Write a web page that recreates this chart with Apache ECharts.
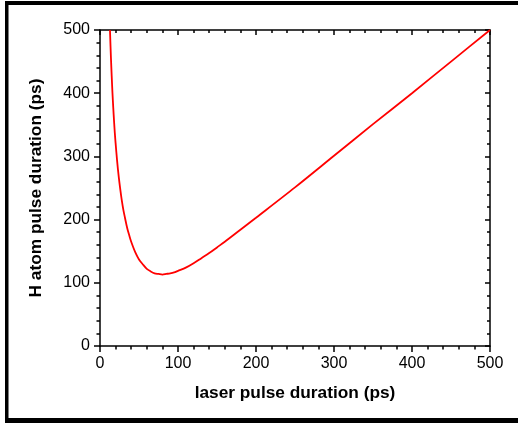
<!DOCTYPE html>
<html>
<head>
<meta charset="utf-8">
<script src="https://cdn.jsdelivr.net/npm/echarts@6/dist/echarts.min.js"></script>
<style>
html,body{margin:0;padding:0;background:#fff;}
#chart{width:518px;height:423px;}
</style>
</head>
<body>
<div id="chart"></div>
<script>
// Values
const laserPs = [12.8,13,14,15,16,17,18,19,20,22,24,26,28,30,32,35,38,40,45,50,55,60,65,70,75,80,85,90,95,100,110,120,130,140,150,160,180,200,250,300,350,400,450,500];
const hAtomPs = [500,492,457,427,400,377,356,337,321,292,268,248,230,215,203,186,173,165,149,137,129,122,118,115,114,113,114,115,116.5,119,124,131,139,147,156,165,184,203,251,301,351,400,450,500];
const xTitle = 'laser pulse duration (ps)';
const yTitle = 'H atom pulse duration (ps)';
const axisMin = 0, axisMax = 500, axisStep = 100;

const font = 'Liberation Sans, Arial, sans-serif';
const chart = echarts.init(document.getElementById('chart'), null, {renderer:'canvas'});
const lineStyle = {color:'#000', width:1.5};
function mainAxis(extra){
  return Object.assign({
    type:'value', min:axisMin, max:axisMax, interval:axisStep,
    axisLine:{show:true, onZero:false, lineStyle},
    axisTick:{show:true, inside:false, length:6, lineStyle},
    minorTick:{show:true, splitNumber:5, length:3.5, lineStyle},
    splitLine:{show:false}
  }, extra);
}
function mirrorAxis(extra){
  return Object.assign({
    type:'value', min:axisMin, max:axisMax, interval:axisStep,
    axisLine:{show:true, onZero:false, lineStyle},
    axisTick:{show:true, inside:true, length:5, lineStyle},
    minorTick:{show:true, splitNumber:5, length:3, lineStyle},
    splitLine:{show:false},
    axisLabel:{show:false}
  }, extra);
}
const data = laserPs.map((x,i)=>[x, hAtomPs[i]]);
chart.setOption({
  animation:false,
  backgroundColor:'#fff',
  grid:{left:100, right:28, top:30, bottom:77, containLabel:false},
  xAxis:[
    mainAxis({position:'bottom', name:xTitle, nameLocation:'middle', nameGap:38.5,
      nameTextStyle:{color:'#000', fontSize:17.3, fontWeight:'bold', fontFamily:font},
      axisLabel:{color:'#000', fontSize:16, fontFamily:font, margin:10}}),
    mirrorAxis({position:'top'})
  ],
  yAxis:[
    mainAxis({position:'left', name:yTitle, nameLocation:'middle', nameGap:55,
      nameTextStyle:{color:'#000', fontSize:17.3, fontWeight:'bold', fontFamily:font},
      axisLabel:{color:'#000', fontSize:16, fontFamily:font, margin:10}}),
    mirrorAxis({position:'right'})
  ],
  graphic:[
    {type:'rect', shape:{x:5, y:1, width:513, height:4}, style:{fill:'#000'}, silent:true},
    {type:'rect', shape:{x:5, y:1, width:3.5, height:422}, style:{fill:'#000'}, silent:true},
    {type:'rect', shape:{x:5, y:418, width:513, height:5}, style:{fill:'#000'}, silent:true}
  ],
  series:[{
    type:'line', xAxisIndex:0, yAxisIndex:0, data:data, smooth:0.3,
    showSymbol:false, clip:true,
    lineStyle:{color:'#ff0000', width:1.8}
  }]
});
</script>
</body>
</html>
